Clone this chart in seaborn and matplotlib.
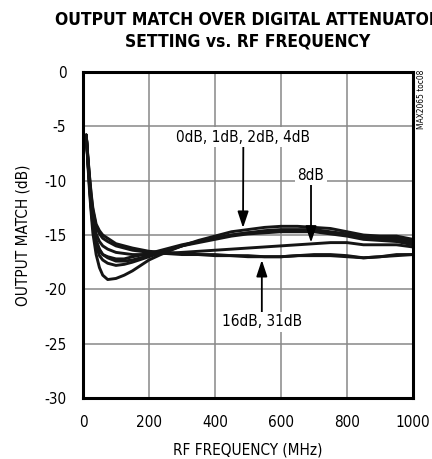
import numpy as np
import pandas as pd
import seaborn as sns
import matplotlib.pyplot as plt

# RF frequency points (MHz) and output match (dB) per attenuator setting
freq = [10, 15, 20, 25, 30, 40, 50, 60, 75, 100, 125, 150, 200, 250, 300, 350, 400,
        450, 500, 550, 600, 650, 700, 750, 800, 850, 900, 950, 1000]

att_0db = [-5.8, -8.5, -11.0, -13.0, -14.8, -16.8, -18.0, -18.7, -19.1, -19.0, -18.7, -18.3,
           -17.3, -16.6, -16.0, -15.5, -15.1, -14.7, -14.5, -14.3, -14.2, -14.2, -14.3, -14.4,
           -14.7, -15.0, -15.1, -15.1, -15.4]
att_1db = [-5.8, -8.3, -10.6, -12.6, -14.2, -16.0, -16.9, -17.3, -17.6, -17.8, -17.7, -17.5,
           -17.0, -16.5, -16.0, -15.6, -15.3, -15.0, -14.8, -14.6, -14.5, -14.5, -14.5, -14.7,
           -14.9, -15.2, -15.3, -15.3, -15.6]
att_2db = [-5.8, -8.2, -10.4, -12.4, -13.9, -15.6, -16.4, -16.8, -17.0, -17.2, -17.2, -17.0,
           -16.7, -16.3, -15.9, -15.6, -15.3, -15.0, -14.8, -14.7, -14.6, -14.6, -14.6, -14.8,
           -15.0, -15.3, -15.4, -15.5, -15.8]
att_4db = [-5.8, -8.2, -10.3, -12.3, -13.8, -15.5, -16.3, -16.8, -17.1, -17.4, -17.4, -17.3,
           -16.9, -16.4, -16.0, -15.7, -15.4, -15.1, -14.9, -14.8, -14.7, -14.7, -14.7, -14.9,
           -15.1, -15.4, -15.5, -15.6, -15.9]
att_8db = [-5.8, -8.0, -10.0, -11.8, -13.2, -14.9, -15.6, -16.0, -16.3, -16.6, -16.7, -16.8,
           -16.8, -16.7, -16.6, -16.5, -16.4, -16.3, -16.2, -16.1, -16.0, -15.9, -15.8, -15.7,
           -15.7, -15.9, -15.9, -15.9, -16.1]
att_16db = [-5.8, -7.8, -9.6, -11.2, -12.5, -14.0, -14.6, -15.0, -15.3, -15.8, -16.0, -16.2,
            -16.5, -16.6, -16.7, -16.8, -16.8, -16.9, -16.9, -17.0, -17.0, -16.9, -16.8, -16.8,
            -16.9, -17.1, -17.0, -16.8, -16.8]
att_31db = [-5.8, -7.9, -9.7, -11.4, -12.7, -14.2, -14.9, -15.3, -15.6, -16.0, -16.2, -16.4,
            -16.6, -16.7, -16.8, -16.8, -16.9, -16.9, -17.0, -17.0, -17.0, -16.9, -16.9, -16.9,
            -17.0, -17.1, -17.0, -16.9, -16.8]

settings = ["0dB", "1dB", "2dB", "4dB", "8dB", "16dB", "31dB"]
curves = [att_0db, att_1db, att_2db, att_4db, att_8db, att_16db, att_31db]

df = pd.concat([pd.DataFrame({"freq": freq, "match": c, "setting": s})
                for s, c in zip(settings, curves)])

sns.set_style("white")
plt.rcParams['font.family'] = ['DejaVu Sans']
plt.rcParams['font.stretch'] = 'condensed'
plt.rcParams['text.color'] = 'black'
plt.rcParams['axes.labelcolor'] = 'black'
plt.rcParams['xtick.color'] = 'black'
plt.rcParams['ytick.color'] = 'black'

fig = plt.figure(figsize=(4.32, 4.59), dpi=100)
ax = fig.add_axes([0.192, 0.133, 0.764, 0.710])

sns.lineplot(data=df, x="freq", y="match", hue="setting", palette=["#151515"] * 7,
             linewidth=2.1, legend=False, ax=ax, sort=False)

ax.set_xlim(0, 1000)
ax.set_ylim(-30, 0)
ax.set_xticks([0, 200, 400, 600, 800, 1000])
ax.set_yticks([0, -5, -10, -15, -20, -25, -30])
ax.set_yticklabels(["0", "-5", "-10", "-15", "-20", "-25", "-30"])
ax.grid(True, color="#888888", linewidth=1.1)
ax.tick_params(length=0, labelsize=11, pad=12)
for sp in ax.spines.values():
    sp.set_visible(True)
    sp.set_color("black")
    sp.set_linewidth(2.2)

ax.set_xlabel("RF FREQUENCY (MHz)", fontsize=11, labelpad=9)
ax.set_ylabel("OUTPUT MATCH (dB)", fontsize=11, labelpad=10)

fig.text(0.574, 0.975, "OUTPUT MATCH OVER DIGITAL ATTENUATOR\nSETTING vs. RF FREQUENCY",
         ha="center", va="top", fontsize=12.5, fontweight="heavy", linespacing=1.2)

fig.text(0.965, 0.848, "MAX2065 toc08", rotation=90, ha="left", va="top", fontsize=6)

arrow = dict(arrowstyle="-|>,head_length=0.9,head_width=0.3", color="black", lw=1.3,
             shrinkA=0, shrinkB=0)
box = dict(boxstyle="square,pad=0.15", fc="white", ec="none")
ax.annotate("0dB, 1dB, 2dB, 4dB", xy=(485, -14.35), xytext=(486, -6.0), fontsize=11,
            ha="center", va="center", bbox=box, arrowprops=arrow)
ax.annotate("8dB", xy=(691, -15.7), xytext=(691, -9.5), fontsize=11,
            ha="center", va="center", bbox=box, arrowprops=arrow)
ax.annotate("16dB, 31dB", xy=(542, -17.3), xytext=(542, -23.0), fontsize=11,
            ha="center", va="center", bbox=box, arrowprops=arrow)

fig.savefig("out.png", dpi=100)
